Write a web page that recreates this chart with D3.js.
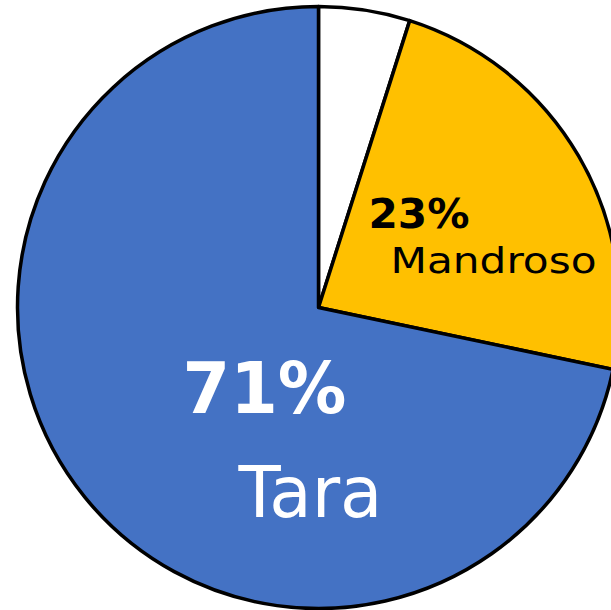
<!DOCTYPE html>
<html lang="mg">
<head>
    <meta charset="UTF-8">
    <title>Tara / Mandroso</title>
    <script src="https://d3js.org/d3.v7.min.js"></script>
    <style>
        body { margin: 0; background: #fff; }
        svg { display: block; }
        text { font-family: "DejaVu Sans", "Noto Sans", sans-serif; }
    </style>
</head>
<body>
<svg width="611" height="610"></svg>
<script>
    // data
    const categories = ["Hafa", "Mandroso", "Tara"];
    const values = [4.9, 23.4, 71.7];
    const pctLabels = ["", "23%", "71%"];
    const colors = ["#ffffff", "#ffc000", "#4472c4"];

    const svg = d3.select("svg");
    const cx = 318.5, cy = 307.5, r = 301;
    const g = svg.append("g").attr("transform", `translate(${cx},${cy})`);

    const pie = d3.pie().sort(null).value(d => d.v);
    const arc = d3.arc().innerRadius(0).outerRadius(r);

    const rows = categories.map((c, i) => ({name: c, v: values[i], pct: pctLabels[i], color: colors[i]}));
    const arcs = pie(rows);

    g.selectAll("path.slice")
        .data(arcs)
        .enter().append("path")
        .attr("class", "slice")
        .attr("d", arc)
        .attr("fill", d => d.data.color)
        .attr("stroke", "#000")
        .attr("stroke-width", 3.5)
        .attr("stroke-linejoin", "round");

    // label placement relative to the centre: x, y, size, colour, weight, width (hand tuned)
    const labelPos = {
        "Mandroso": {pct: [50, -80, 41, "#000", 700, 101], name: [72, -35, 36, "#000", 400, 206]},
        "Tara": {pct: [-136, 105, 72, "#fff", 700, 164], name: [-80, 209, 71, "#fff", 400, 144]}
    };

    arcs.forEach(a => {
        const p = labelPos[a.data.name];
        if (!p) return;
        [[a.data.pct, p.pct], [a.data.name, p.name]].forEach(([txt, s]) => {
            g.append("text")
                .attr("x", s[0])
                .attr("y", s[1])
                .attr("font-size", s[2])
                .attr("fill", s[3])
                .attr("font-weight", s[4])
                .attr("textLength", s[5])
                .attr("lengthAdjust", "spacingAndGlyphs")
                .text(txt);
        });
    });
</script>
</body>
</html>
